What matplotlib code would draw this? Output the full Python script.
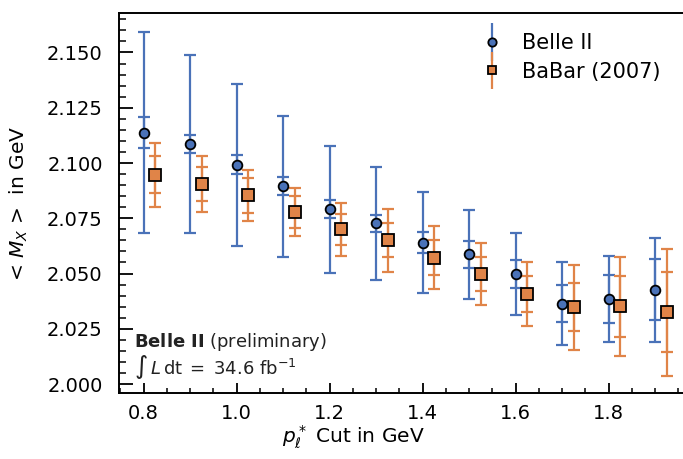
import matplotlib
matplotlib.use("Agg")
import matplotlib.pyplot as plt
from matplotlib.ticker import MultipleLocator, FormatStrFormatter
from matplotlib.legend_handler import HandlerErrorbar

# Lepton momentum cuts (GeV)
p_cut = [0.8, 0.9, 1.0, 1.1, 1.2, 1.3, 1.4, 1.5, 1.6, 1.7, 1.8, 1.9]

# Belle II: mean hadronic mass, statistical and total uncertainty
belle_mean = [2.1138, 2.1087, 2.0992, 2.0895, 2.0790, 2.0727,
              2.0640, 2.0587, 2.0498, 2.0363, 2.0385, 2.0427]
belle_stat = [0.0072, 0.0041, 0.0042, 0.0041, 0.0041, 0.0040,
              0.0049, 0.0060, 0.0065, 0.0083, 0.0107, 0.0138]
belle_total = [0.0455, 0.0402, 0.0366, 0.0318, 0.0288, 0.0257,
               0.0227, 0.0202, 0.0187, 0.0187, 0.0193, 0.0235]

# BaBar (2007)
babar_mean = [2.0947, 2.0905, 2.0854, 2.0779, 2.0700, 2.0651,
              2.0572, 2.0497, 2.0408, 2.0348, 2.0352, 2.0325]
babar_stat = [0.0084, 0.0079, 0.0079, 0.0074, 0.0071, 0.0077,
              0.0079, 0.0078, 0.0083, 0.0108, 0.0137, 0.0180]
babar_total = [0.0144, 0.0127, 0.0116, 0.0110, 0.0120, 0.0143,
               0.0144, 0.0139, 0.0145, 0.0192, 0.0224, 0.0287]

babar_shift = 0.025

blue = "#4a72b8"
orange = "#e08448"

plt.rcParams["font.family"] = ["DejaVu Sans"]
plt.rcParams["font.size"] = 14

fig = plt.figure(figsize=(6.83, 4.59), dpi=100)
ax = fig.add_axes([0.1747, 0.1431, 0.84, 0.8292])

x_babar = [x + babar_shift for x in p_cut]

# total uncertainties
ax.errorbar(p_cut, belle_mean, yerr=belle_total, fmt="none", ecolor=blue,
            elinewidth=1.6, capsize=4, capthick=1.6, zorder=2)
ax.errorbar(x_babar, babar_mean, yerr=babar_total, fmt="none", ecolor=orange,
            elinewidth=1.6, capsize=4.5, capthick=1.6, zorder=3)
# statistical uncertainties
ax.errorbar(p_cut, belle_mean, yerr=belle_stat, fmt="none", ecolor=blue,
            elinewidth=1.6, capsize=4, capthick=1.6, zorder=2)
ax.errorbar(x_babar, babar_mean, yerr=babar_stat, fmt="none", ecolor=orange,
            elinewidth=1.6, capsize=4.5, capthick=1.6, zorder=3)
# central values
ax.plot(p_cut, belle_mean, "o", mfc=blue, mec="black", mew=1.3, ms=7, zorder=4)
ax.plot(x_babar, babar_mean, "s", mfc=orange, mec="black", mew=1.3, ms=8, zorder=5)

# legend entries with error bars
lb = ax.errorbar([], [], yerr=[], fmt="o", color=blue, mfc=blue, mec="black",
                 mew=1.3, ms=6, elinewidth=1.6, capsize=4, capthick=1.6)
lo = ax.errorbar([], [], yerr=[], fmt="s", color=orange, mfc=orange, mec="black",
                 mew=1.3, ms=6, elinewidth=1.6, capsize=4, capthick=1.6)
ax.legend([lb, lo], ["Belle II", "BaBar (2007)"], loc="upper left",
          bbox_to_anchor=(0.598, 0.995), frameon=False, fontsize=15,
          handlelength=1.0, handletextpad=0.95, labelspacing=0.4,
          handler_map={type(lb): HandlerErrorbar(xerr_size=0.5, yerr_size=0.9)})

ax.set_xlim(0.748, 1.9818)
ax.set_ylim(1.9958, 2.168)

ax.xaxis.set_major_locator(MultipleLocator(0.2))
ax.xaxis.set_minor_locator(MultipleLocator(0.05))
ax.yaxis.set_major_locator(MultipleLocator(0.025))
ax.yaxis.set_minor_locator(MultipleLocator(0.005))
ax.xaxis.set_major_formatter(FormatStrFormatter("%.1f"))
ax.yaxis.set_major_formatter(FormatStrFormatter("%.3f"))

ax.tick_params(axis="x", which="major", direction="in", length=7, width=1.3,
               pad=8, labelsize=14)
ax.tick_params(axis="x", which="minor", direction="in", length=3.5, width=1.1)
ax.tick_params(axis="y", which="major", direction="in", length=10, width=1.3,
               pad=12, labelsize=14)
ax.tick_params(axis="y", which="minor", direction="in", length=5, width=1.1)
for s in ax.spines.values():
    s.set_linewidth(1.4)

ax.set_xlabel(r"$p_\ell^*$ Cut in GeV", fontsize=14.5)
ax.xaxis.set_label_coords(0.407, -0.08)
ax.set_ylabel(r"< $M_X$ >  in GeV", fontsize=14.5)
ax.yaxis.set_label_coords(-0.155, 0.5)

ax.text(0.025, 0.135, r"$\mathbf{Belle\ II}$ (preliminary)", transform=ax.transAxes,
        fontsize=13, ha="left", va="center", color="#222222")
ax.text(0.025, 0.07, r"$\int\,L\,\mathrm{dt}\;=\;34.6\ \mathrm{fb}^{-1}$",
        transform=ax.transAxes, fontsize=13, ha="left", va="center",
        color="#222222")

fig.savefig("out.png", dpi=100)
